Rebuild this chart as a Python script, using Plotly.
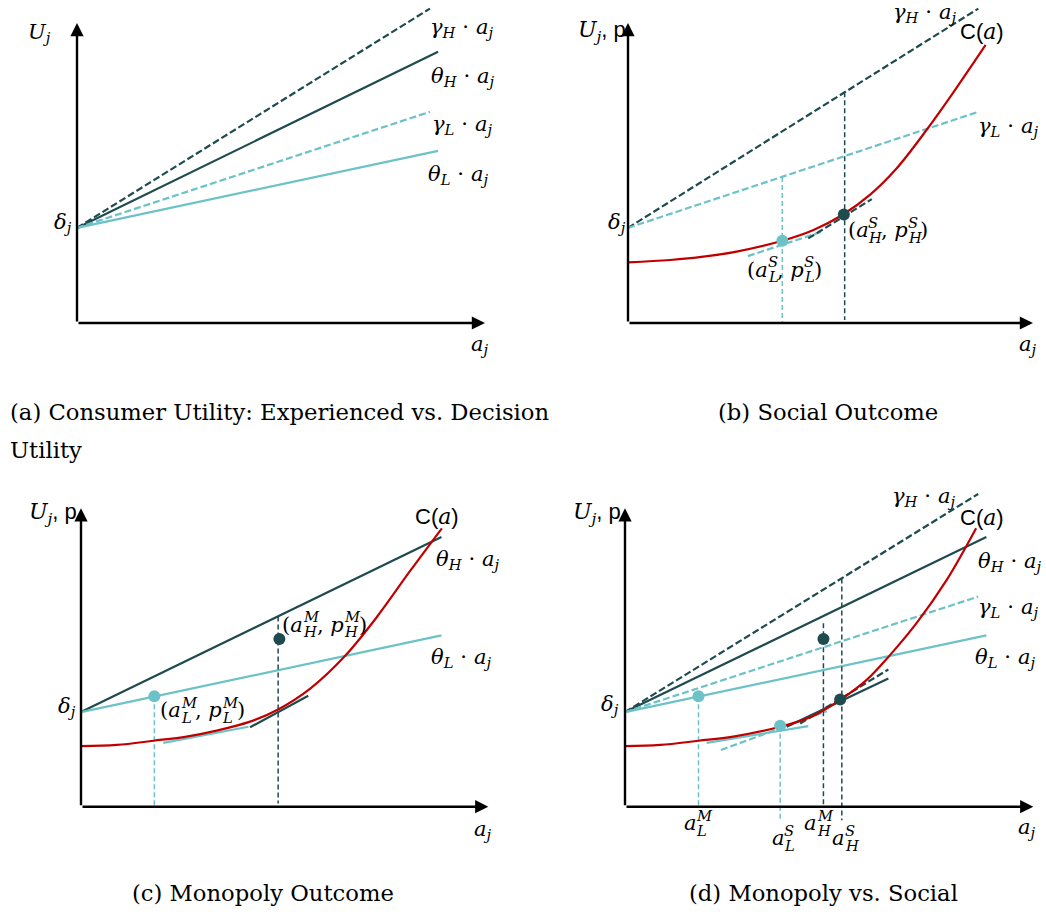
import plotly.graph_objects as go

# ---------------- data (schematic units: a_j on x, U_j / p on y) ----------------
delta_j = 3.17
gammaH_a = [0, 8.65]; gammaH_u = [delta_j, 10.48]
thetaH_a = [0, 8.85]; thetaH_u = [delta_j, 9.04]
gammaL_a = [0, 8.65]; gammaL_u = [delta_j, 7.04]
thetaL_a = [0, 8.85]; thetaL_u = [delta_j, 5.74]

# cost curve C(a)
cost_a_b = [0.01, 1.04, 1.86, 2.68, 3.81, 4.58, 5.29, 5.98, 6.63, 7.38, 8.03, 8.83]
cost_p_b = [2.02, 2.10, 2.21, 2.38, 2.74, 3.10, 3.60, 4.28, 5.15, 6.45, 7.68, 9.27]
cost_a_c = [0.00, 0.88, 1.78, 2.59, 3.33, 4.15, 4.84, 5.62, 6.48, 7.26, 8.08, 8.86]
cost_p_c = [2.03, 2.07, 2.21, 2.35, 2.55, 2.85, 3.26, 3.95, 5.05, 6.35, 7.90, 9.33]
cost_a_d = [0.00, 0.86, 1.80, 2.65, 3.80, 4.61, 5.27, 5.92, 6.49, 7.14, 7.88, 8.60]
cost_p_d = [2.03, 2.07, 2.21, 2.35, 2.68, 3.04, 3.58, 4.25, 5.08, 6.15, 7.60, 9.33]

# panel (b): social outcome
b_pts_a = [3.81, 5.33]; b_pts_p = [2.74, 3.62]
b_vL_a = [3.81, 3.81]; b_vL_p = [4.87, 0.0]
b_vH_a = [5.35, 5.35]; b_vH_p = [7.69, 0.1]
b_tanL_a = [2.96, 4.80]; b_tanL_p = [2.23, 3.05]
b_tanH_a = [4.45, 6.02]; b_tanH_p = [2.82, 4.13]

# panel (c): monopoly outcome
c_ptL = ([1.80], [3.70]); c_ptH = ([4.87], [5.62])
c_vL_a = [1.80, 1.80]; c_vL_p = [3.70, 0.0]
c_vH_a = [4.84, 4.84]; c_vH_p = [6.37, 0.11]
c_tanL_a = [2.02, 4.11]; c_tanL_p = [2.14, 2.68]
c_tanH_a = [4.15, 5.58]; c_tanH_p = [2.66, 3.72]

# panel (d): monopoly vs social
d_ptL_a = [1.80, 3.80]; d_ptL_p = [3.70, 2.71]
d_ptH_a = [4.86, 5.27]; d_ptH_p = [5.62, 3.59]
d_vLM_a = [1.80, 1.80]; d_vLM_p = [3.70, 0.0]
d_vLS_a = [3.80, 3.80]; d_vLS_p = [2.71, -0.45]
d_vHM_a = [4.86, 4.86]; d_vHM_p = [6.15, 0.0]
d_vHS_a = [5.31, 5.31]; d_vHS_p = [7.65, -0.45]
d_tanLs_a = [2.00, 4.49]; d_tanLs_p = [2.14, 2.70]
d_tanLd_a = [2.35, 4.94]; d_tanLd_p = [1.90, 3.20]
d_tanHs_a = [3.96, 6.45]; d_tanHs_p = [2.68, 4.30]
d_tanHd_a = [4.29, 6.45]; d_tanHd_p = [2.79, 4.60]

captions = ["(a) Consumer Utility: Experienced vs. Decision", "Utility",
            "(b) Social Outcome", "(c) Monopoly Outcome", "(d) Monopoly vs. Social"]

# ---------------- style / layout ----------------
W, H = 1046, 915
DARK = "#1F4B4E"
LIGHT = "#6CC2C6"
RED = "#C00000"
SERIF = "DejaVu Serif"
SANS = "Liberation Sans"
MS = 21  # math font size

# pixel layout of each panel: origin, px per unit, bounding box (x0, y0, x1, y1)
PANELS = {
    "a": dict(o=(77, 323), s=(40.8, 30.0), box=(0, 0, 522, 385)),
    "b": dict(o=(628, 323), s=(40.5, 30.0), box=(524, 0, 1046, 385)),
    "c": dict(o=(81, 806.7), s=(40.73, 29.84), box=(0, 470, 522, 870)),
    "d": dict(o=(625, 806.7), s=(40.83, 29.84), box=(524, 470, 1046, 870)),
}
AX = {"a": ("x", "y"), "b": ("x2", "y2"), "c": ("x3", "y3"), "d": ("x4", "y4")}

fig = go.Figure()
layout_axes = {}
for i, (k, p) in enumerate(PANELS.items()):
    ox, oy = p["o"]; sx, sy = p["s"]; x0, y0, x1, y1 = p["box"]
    suf = "" if i == 0 else str(i + 1)
    layout_axes["xaxis" + suf] = dict(domain=[x0 / W, x1 / W], range=[(x0 - ox) / sx, (x1 - ox) / sx],
                                      visible=False, fixedrange=True)
    layout_axes["yaxis" + suf] = dict(domain=[1 - y1 / H, 1 - y0 / H], range=[(oy - y1) / sy, (oy - y0) / sy],
                                      visible=False, fixedrange=True)


def line(panel, xs, ys, color, width=2.2, dash="solid"):
    xa, ya = AX[panel]
    fig.add_trace(go.Scatter(x=xs, y=ys, mode="lines", xaxis=xa, yaxis=ya,
                             line=dict(color=color, width=width, dash=dash, shape="linear"),
                             hoverinfo="skip", showlegend=False))


def curve(panel, xs, ys):
    xa, ya = AX[panel]
    fig.add_trace(go.Scatter(x=xs, y=ys, mode="lines", xaxis=xa, yaxis=ya,
                             line=dict(color=RED, width=2.2, shape="spline", smoothing=1.0),
                             hoverinfo="skip", showlegend=False))


def dots(panel, xs, ys, color):
    xa, ya = AX[panel]
    fig.add_trace(go.Scatter(x=xs, y=ys, mode="markers", xaxis=xa, yaxis=ya,
                             marker=dict(color=color, size=12, line=dict(width=0)),
                             hoverinfo="skip", showlegend=False))


annotations = []


def text(panel, x, y, t, size=MS, family=SERIF, xanchor="center"):
    xa, ya = AX[panel]
    annotations.append(dict(x=x, y=y, xref=xa, yref=ya, text=t, showarrow=False,
                            font=dict(family=family, size=size, color="black"),
                            xanchor=xanchor, yanchor="middle"))


def arrow(panel, x, y, tx, ty):
    xa, ya = AX[panel]
    annotations.append(dict(x=x, y=y, ax=tx, ay=ty, xref=xa, yref=ya, axref=xa, ayref=ya,
                            text="", showarrow=True, arrowhead=2, arrowsize=1.1,
                            arrowwidth=2.4, arrowcolor="black", standoff=0))


W_EM = {'a': 0.60, 'p': 0.64, '(': 0.39, ')': 0.39, ',': 0.32, ' ': 0.32,
        'S': 0.65, 'L': 0.56, 'H': 0.84, 'M': 0.99, 'j': 0.34}


def fmt(s):
    return "".join(f"<i>{c}</i>" if c.isalpha() else c for c in s)


def stacked(panel, x, y, pieces, size=MS):
    """Math label with stacked sub/superscripts; pieces = [(base, sub, sup), ...]."""
    xa, ya = AX[panel]
    sc = 0.7
    widths = []
    for base, sub, sup in pieces:
        wb = sum(W_EM.get(c, 0.6) for c in base) * size
        ws = max(sum(W_EM.get(c, 0.6) for c in s) for s in (sub, sup)) * size * sc
        widths.append((wb, ws))
    total = sum(a + b for a, b in widths)
    cur = -total / 2
    for (base, sub, sup), (wb, ws) in zip(pieces, widths):
        if base:
            annotations.append(dict(x=x, y=y, xref=xa, yref=ya, text=fmt(base), showarrow=False,
                                    font=dict(family=SERIF, size=size, color="black"),
                                    xanchor="left", yanchor="middle", xshift=cur, borderpad=0))
        cur += wb
        for s, dy in ((sup, 8.0), (sub, -7.0)):
            if s:
                annotations.append(dict(x=x, y=y, xref=xa, yref=ya, text=fmt(s), showarrow=False,
                                        font=dict(family=SERIF, size=size * sc, color="black"),
                                        xanchor="left", yanchor="middle", xshift=cur, yshift=dy,
                                        borderpad=0))
        cur += ws


def lab(sym, sub):
    return f"<i>{sym}</i><sub><i>{sub}</i></sub> \u22c5 <i>a</i><sub><i>j</i></sub>"


UP = f"<i>U</i><sub><i>j</i></sub><span style='font-family:{SANS}'>, p</span>"
DELTA = "<i>\u03b4</i><sub><i>j</i></sub>"
AJ = "<i>a</i><sub><i>j</i></sub>"
CA = f"<span style='font-family:{SANS}'>C(</span><i>a</i><span style='font-family:{SANS}'>)</span>"

# ---------------- panel (a) ----------------
line("a", gammaH_a, gammaH_u, DARK, dash="7px,3px")
line("a", thetaH_a, thetaH_u, DARK)
line("a", gammaL_a, gammaL_u, LIGHT, dash="7px,3px")
line("a", thetaL_a, thetaL_u, LIGHT)
arrow("a", 10, 0, 0, 0); arrow("a", 0, 10, 0, 0)
text("a", 9.43, 9.82, lab("\u03b3", "H"))
text("a", 9.47, 8.21, lab("\u03b8", "H"))
text("a", 9.43, 6.60, lab("\u03b3", "L"))
text("a", 9.35, 4.93, lab("\u03b8", "L"))
text("a", -0.92, 9.66, "<i>U</i><sub><i>j</i></sub>")
text("a", -0.34, 3.32, DELTA)
text("a", 9.88, -0.73, AJ)

# ---------------- panel (b) ----------------
line("b", gammaH_a, gammaH_u, DARK, dash="7px,3px")
line("b", gammaL_a, gammaL_u, LIGHT, dash="7px,3px")
line("b", b_vL_a, b_vL_p, LIGHT, width=1.5, dash="5px,3px")
line("b", b_vH_a, b_vH_p, DARK, width=1.5, dash="5px,3px")
line("b", b_tanL_a, b_tanL_p, LIGHT, dash="7px,3px")
line("b", b_tanH_a, b_tanH_p, DARK, dash="7px,3px")
curve("b", cost_a_b, cost_p_b)
dots("b", b_pts_a[:1], b_pts_p[:1], LIGHT)
dots("b", b_pts_a[1:], b_pts_p[1:], DARK)
arrow("b", 10, 0, 0, 0); arrow("b", 0, 10, 0, 0)
text("b", 7.33, 10.32, lab("\u03b3", "H"))
text("b", 8.73, 9.71, CA, size=22)
text("b", 9.39, 6.54, lab("\u03b3", "L"))
text("b", -0.65, 9.71, UP, size=22)
text("b", -0.28, 3.32, DELTA)
text("b", 9.88, -0.73, AJ)
stacked("b", 3.84, 1.77, [("(a", "L", "S"), (", p", "L", "S"), (")", "", "")])
stacked("b", 6.39, 3.10, [("(a", "H", "S"), (", p", "H", "S"), (")", "", "")])

# ---------------- panel (c) ----------------
line("c", thetaH_a, thetaH_u, DARK)
line("c", thetaL_a, thetaL_u, LIGHT)
line("c", c_vL_a, c_vL_p, LIGHT, width=1.5, dash="5px,3px")
line("c", c_vH_a, c_vH_p, DARK, width=1.5, dash="5px,3px")
line("c", c_tanL_a, c_tanL_p, LIGHT)
line("c", c_tanH_a, c_tanH_p, DARK)
curve("c", cost_a_c, cost_p_c)
dots("c", *c_ptL, LIGHT)
dots("c", *c_ptH, DARK)
arrow("c", 10, 0, 0, 0); arrow("c", 0, 10, 0, 0)
text("c", 8.73, 9.72, CA, size=22)
text("c", 9.51, 8.27, lab("\u03b8", "H"))
text("c", 9.35, 4.97, lab("\u03b8", "L"))
text("c", -0.68, 9.83, UP, size=22)
text("c", -0.35, 3.33, DELTA)
text("c", 9.88, -0.78, AJ)
stacked("c", 5.95, 6.09, [("(a", "H", "M"), (", p", "H", "M"), (")", "", "")])
stacked("c", 2.96, 3.24, [("(a", "L", "M"), (", p", "L", "M"), (")", "", "")])

# ---------------- panel (d) ----------------
line("d", gammaH_a, gammaH_u, DARK, dash="7px,3px")
line("d", thetaH_a, thetaH_u, DARK)
line("d", gammaL_a, gammaL_u, LIGHT, dash="7px,3px")
line("d", thetaL_a, thetaL_u, LIGHT)
line("d", d_vLM_a, d_vLM_p, LIGHT, width=1.5, dash="5px,3px")
line("d", d_vLS_a, d_vLS_p, LIGHT, width=1.5, dash="5px,3px")
line("d", d_vHM_a, d_vHM_p, DARK, width=1.5, dash="5px,3px")
line("d", d_vHS_a, d_vHS_p, DARK, width=1.5, dash="5px,3px")
line("d", d_tanLs_a, d_tanLs_p, LIGHT)
line("d", d_tanLd_a, d_tanLd_p, LIGHT, dash="7px,3px")
line("d", d_tanHs_a, d_tanHs_p, DARK)
line("d", d_tanHd_a, d_tanHd_p, DARK, dash="7px,3px")
curve("d", cost_a_d, cost_p_d)
dots("d", d_ptL_a, d_ptL_p, LIGHT)
dots("d", d_ptH_a, d_ptH_p, DARK)
arrow("d", 10, 0, 0, 0); arrow("d", 0, 10, 0, 0)
text("d", 7.31, 10.39, lab("\u03b3", "H"))
text("d", 8.74, 9.70, CA, size=22)
text("d", 9.43, 8.21, lab("\u03b8", "H"))
text("d", 9.39, 6.65, lab("\u03b3", "L"))
text("d", 9.31, 4.97, lab("\u03b8", "L"))
text("d", -0.69, 9.83, UP, size=22)
text("d", -0.37, 3.41, DELTA)
text("d", 9.84, -0.72, AJ)
stacked("d", 1.75, -0.56, [("a", "L", "M")])
stacked("d", 3.84, -1.06, [("a", "L", "S")])
stacked("d", 4.69, -0.56, [("a", "H", "M")])
stacked("d", 5.35, -1.06, [("a", "H", "S")])

# ---------------- captions ----------------
CAP = dict(family=SERIF, size=22.7, color="black")
for t, px, py, anc in [(captions[0], 8, 412, "left"), (captions[1], 8, 450, "left"),
                       (captions[2], 828, 412, "center"), (captions[3], 263, 893, "center"),
                       (captions[4], 823, 893, "center")]:
    annotations.append(dict(x=px / W, y=1 - py / H, xref="paper", yref="paper", text=t,
                            showarrow=False, font=CAP, xanchor=anc, yanchor="middle"))

fig.update_layout(width=W, height=H, margin=dict(l=0, r=0, t=0, b=0),
                  paper_bgcolor="white", plot_bgcolor="white", showlegend=False,
                  annotations=annotations, **layout_axes)
fig.write_html("out.html", config={"displayModeBar": False},
               post_script="document.body.style.margin='0px';document.body.style.overflow='hidden';")
